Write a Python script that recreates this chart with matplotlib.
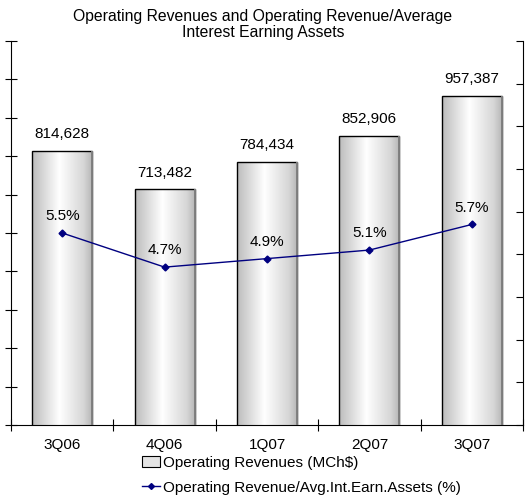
import matplotlib
matplotlib.use("Agg")
import matplotlib.pyplot as plt
import numpy as np
from matplotlib.colors import LinearSegmentedColormap
from matplotlib.patches import Patch
from matplotlib.lines import Line2D

plt.rcParams['font.family'] = ['Liberation Sans', 'DejaVu Sans']

categories = ["3Q06", "4Q06", "1Q07", "2Q07", "3Q07"]
revenues = [814628, 713482, 784434, 852906, 957387]
revenue_labels = ["814,628", "713,482", "784,434", "852,906", "957,387"]
ratio = [5.5, 4.7, 4.9, 5.1, 5.7]
ratio_labels = ["5.5%", "4.7%", "4.9%", "5.1%", "5.7%"]

W, H = 525, 498
fig = plt.figure(figsize=(W / 100, H / 100), dpi=100)
ax_l, ax_b, ax_r, ax_t = 11, 425, 523, 41
ax = fig.add_axes([ax_l / W, 1 - ax_b / H, (ax_r - ax_l) / W, (ax_b - ax_t) / H])

x = np.arange(len(categories))
bw = 0.587
ax.set_xlim(-0.5, len(categories) - 0.5)
ax.set_ylim(100000, 1100000)

cmap = LinearSegmentedColormap.from_list(
    "cyl", [(0, "#bcbcbc"), (0.45, "#ffffff"), (0.85, "#d6d6d6"), (1.0, "#b4b4b4")])
grad = np.linspace(0, 1, 256).reshape(1, -1)
bars = ax.bar(x, revenues, width=bw, bottom=0, facecolor="none",
              edgecolor="black", linewidth=1.0, zorder=3)
for b in bars:
    x0 = b.get_x()
    w, h = b.get_width(), b.get_height()
    im = ax.imshow(grad, cmap=cmap, aspect="auto",
                   extent=[x0, x0 + w, 100000, h], zorder=2)
    im.set_clip_path(b)
    ax.plot([x0 + w, x0 + w], [100000, h], color="#808080", lw=1.4,
            zorder=3.5, solid_capstyle="butt")

for xi, v, lab in zip(x, revenues, revenue_labels):
    ax.annotate(lab, (xi, v), xytext=(0, 7), textcoords="offset points",
                ha="center", va="bottom", fontsize=11)

ax.set_xticks(np.arange(-0.5, len(categories), 1.0))
ax.set_xticklabels([])
ax.set_xticks(x, minor=True)
ax.set_xticklabels(categories, minor=True, fontsize=11)
ax.tick_params(axis="x", which="major", direction="inout", length=8, width=0.8)
ax.tick_params(axis="x", which="minor", length=0, pad=9)
ax.set_yticks(np.arange(100000, 1100001, 100000))
ax.set_yticklabels([])
ax.tick_params(axis="y", direction="inout", length=8, width=0.8)

for s in ["top", "right"]:
    ax.spines[s].set_visible(False)
ax.spines["left"].set_color("black")
ax.spines["bottom"].set_color("black")

ax2 = ax.twinx()
ax2.set_ylim(1, 10)
ax2.set_yticks(np.arange(1, 11, 1))
ax2.set_yticklabels([])
ax2.tick_params(axis="y", direction="in", length=5, width=0.8)
for s in ["top", "left", "bottom"]:
    ax2.spines[s].set_visible(False)
ax2.spines["right"].set_color("black")
ax2.plot(x, ratio, color="#000080", lw=1.0, marker="D", markersize=3.5,
         zorder=5)
for xi, v, lab in zip(x, ratio, ratio_labels):
    ax2.annotate(lab, (xi, v), xytext=(0, 7), textcoords="offset points",
                 ha="center", va="bottom", fontsize=11)

fig.text(263 / W, 1 - 9 / H,
         "Operating Revenues and Operating Revenue/Average\nInterest Earning Assets",
         ha="center", va="top", fontsize=11.3, linespacing=1.1)

handles = [Patch(facecolor="#e4e4e4", edgecolor="black", linewidth=0.8),
           Line2D([], [], color="#000080", lw=1.0, marker="D", markersize=3)]
labels = ["Operating Revenues (MCh$)", "Operating Revenue/Avg.Int.Earn.Assets (%)"]
fig.legend(handles, labels, loc="upper left",
           bbox_to_anchor=(139 / W, 1 - 453 / H), frameon=False, fontsize=11,
           handlelength=1.2, handletextpad=0.2, labelspacing=0.7,
           borderpad=0.2, borderaxespad=0)

fig.savefig("out.png", dpi=100)
